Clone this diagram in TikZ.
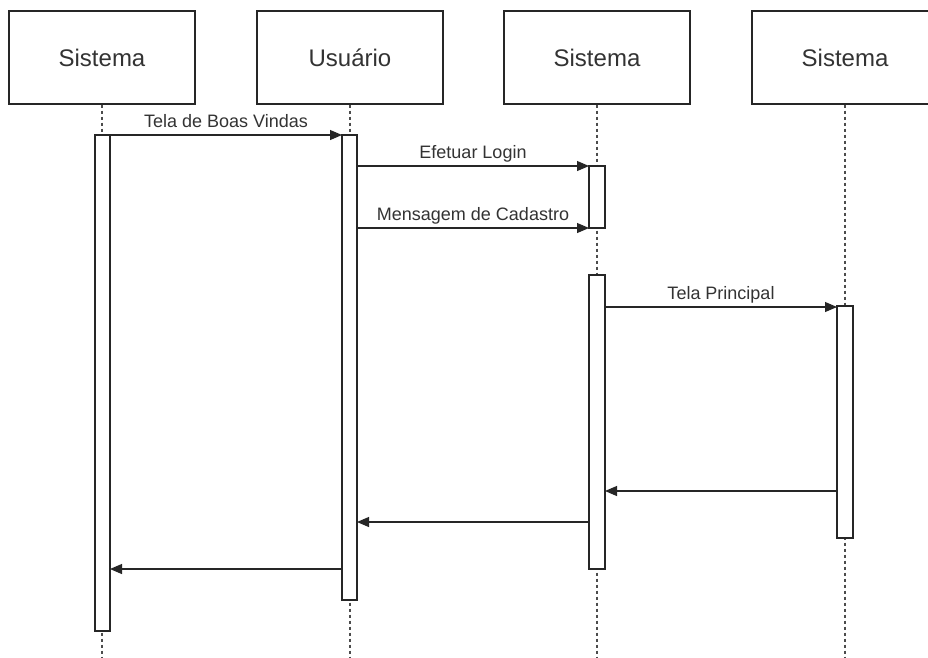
\documentclass[tikz,border=0pt]{standalone}
\usepackage{fontspec}
\setmainfont{Liberation Sans}
\usetikzlibrary{arrows.meta}
\begin{document}
\begin{tikzpicture}[x=1pt,y=-1pt,
  actor/.style={draw=black!85, line width=1.1pt, fill=white, minimum width=186pt, minimum height=93pt, inner sep=0pt, font=\fontsize{24}{28}\selectfont, text=black!80},
  bar/.style={draw=black!85, line width=1.1pt, fill=white},
  life/.style={draw=black!70, line width=1.1pt, dash pattern=on 3pt off 3pt},
  msg/.style={draw=black!85, line width=1.1pt, -{Triangle[length=12pt,width=10pt]}},
  lbl/.style={font=\fontsize{18}{21}\selectfont, text=black!80, inner sep=0pt, anchor=base, yshift=7.5pt}]
\clip (0,0) rectangle (928,657);
\fill[white] (0,0) rectangle (928,657);
% actors
\node[actor] (a1) at (102,57.5) {Sistema};
\node[actor] (a2) at (350,57.5) {Usuário};
\node[actor] (a3) at (597,57.5) {Sistema};
\node[actor] (a4) at (845,57.5) {Sistema};
% lifeline ends
\coordinate (e1) at (102,657);
\coordinate (e2) at (350,657);
\coordinate (e3) at (597,657);
\coordinate (e4) at (845,657);
\draw[life] (a1.south) -- (e1);
\draw[life] (a2.south) -- (e2);
\draw[life] (a3.south) -- (e3);
\draw[life] (a4.south) -- (e4);
% activation bars
\draw[bar] (95,135) rectangle (110,631);
\draw[bar] (342,135) rectangle (357,600);
\draw[bar] (589,166) rectangle (605,228);
\draw[bar] (589,275) rectangle (605,569);
\draw[bar] (837,306) rectangle (853,538);
% message endpoints
\coordinate (m1s) at (110,135); \coordinate (m1e) at (342,135);
\coordinate (m2s) at (357,166); \coordinate (m2e) at (589,166);
\coordinate (m3s) at (357,228); \coordinate (m3e) at (589,228);
\coordinate (m4s) at (605,307); \coordinate (m4e) at (837,307);
\coordinate (r1s) at (837,491); \coordinate (r1e) at (605,491);
\coordinate (r2s) at (589,522); \coordinate (r2e) at (357,522);
\coordinate (r3s) at (342,569); \coordinate (r3e) at (110,569);
\draw[msg] (m1s) -- node[lbl] (l1) {Tela de Boas Vindas} (m1e);
\draw[msg] (m2s) -- node[lbl] (l2) {Efetuar Login} (m2e);
\draw[msg] (m3s) -- node[lbl] (l3) {Mensagem de Cadastro} (m3e);
\draw[msg] (m4s) -- node[lbl] (l4) {Tela Principal} (m4e);
\draw[msg] (r1s) -- (r1e);
\draw[msg] (r2s) -- (r2e);
\draw[msg] (r3s) -- (r3e);
\end{tikzpicture}
\end{document}
